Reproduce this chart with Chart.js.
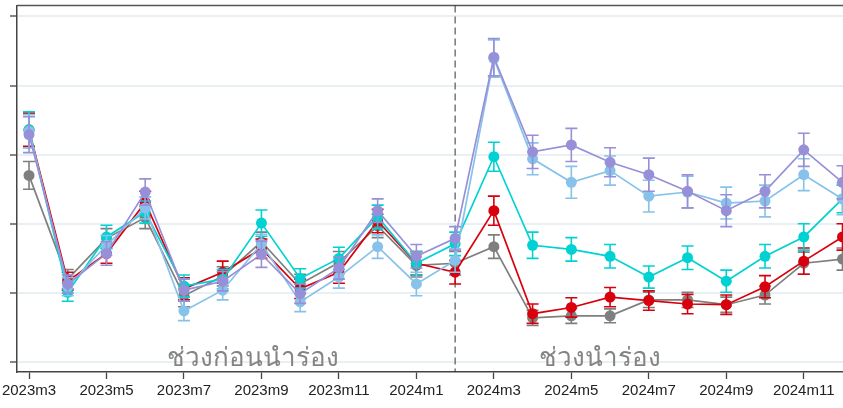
<!DOCTYPE html>
<html><head><meta charset="utf-8">
<script src="https://cdn.jsdelivr.net/npm/chart.js@4/dist/chart.umd.min.js"></script>
<style>
html,body{margin:0;padding:0;overflow:hidden;background:#fff;width:843px;height:408px;}
#wrap{position:absolute;left:-40px;top:0;width:900px;height:408px;}
</style></head><body>
<div id="wrap"><canvas id="c"></canvas></div>
<script>
const months = ["2023m3","2023m4","2023m5","2023m6","2023m7","2023m8","2023m9","2023m10","2023m11","2023m12","2024m1","2024m2",
                "2024m3","2024m4","2024m5","2024m6","2024m7","2024m8","2024m9","2024m10","2024m11","2024m12"];
const labeledTicks = ["2023m3","2023m5","2023m7","2023m9","2023m11","2024m1","2024m3","2024m5","2024m7","2024m9","2024m11"];
const yGridValues = [0,1,2,3,4,5];

const grayVals   = [2.70,1.20,1.79,2.09,0.96,1.24,1.74,1.13,1.44,1.97,1.40,1.43,1.67,0.64,0.67,0.67,0.90,0.90,0.83,0.97,1.43,1.49];
const grayErr    = [0.20,0.14,0.14,0.16,0.16,0.14,0.14,0.14,0.16,0.17,0.17,0.17,0.17,0.11,0.11,0.10,0.11,0.11,0.11,0.13,0.16,0.16];
const redVals    = [3.36,1.17,1.57,2.31,1.06,1.30,1.64,1.06,1.30,2.04,1.43,1.30,2.19,0.70,0.79,0.94,0.89,0.84,0.83,1.09,1.46,1.81];
const redErr     = [0.24,0.13,0.14,0.16,0.16,0.16,0.14,0.14,0.16,0.17,0.17,0.17,0.21,0.14,0.14,0.14,0.14,0.14,0.14,0.16,0.19,0.19];
const cyanVals   = [3.36,1.01,1.81,2.17,1.10,1.20,2.01,1.21,1.50,2.10,1.43,1.71,2.97,1.69,1.63,1.53,1.23,1.51,1.17,1.53,1.81,2.36];
const cyanErr    = [0.26,0.13,0.17,0.16,0.16,0.14,0.19,0.14,0.16,0.17,0.17,0.17,0.21,0.19,0.17,0.17,0.16,0.17,0.16,0.17,0.19,0.20];
const skyVals    = [3.34,1.09,1.69,2.23,0.74,1.04,1.71,0.87,1.23,1.67,1.13,1.47,4.39,2.94,2.60,2.77,2.40,2.46,2.30,2.33,2.71,2.36];
const skyErr     = [0.24,0.13,0.14,0.16,0.14,0.14,0.14,0.14,0.16,0.17,0.17,0.17,0.27,0.23,0.23,0.21,0.23,0.23,0.23,0.23,0.23,0.23];
const purpleVals = [3.29,1.13,1.57,2.46,1.04,1.17,1.56,0.99,1.36,2.19,1.53,1.79,4.41,3.04,3.14,2.89,2.71,2.47,2.19,2.47,3.07,2.60];
const purpleErr  = [0.26,0.13,0.17,0.19,0.16,0.14,0.19,0.14,0.16,0.17,0.17,0.17,0.27,0.24,0.24,0.21,0.24,0.24,0.23,0.24,0.24,0.24];

const periodLabels = ["ช่วงก่อนนำร่อง","ช่วงนำร่อง"];
const periodLabelX = [5.78, 14.74];
const periodLabelY = 0.05;
const pilotStart = "2024m2";

function pts(vals){ return vals.map((v,i)=>({x:i,y:v})); }
function mk(label,vals,err,color){
  return {label,data:pts(vals),err,borderColor:color,backgroundColor:color,pointBackgroundColor:color,
    pointBorderWidth:0,pointRadius:5.5,pointHoverRadius:5.5,borderWidth:1.7,tension:0,clip:false};
}
const datasets = [
  mk("purple",purpleVals,purpleErr,"#9790d8"),
  mk("sky",skyVals,skyErr,"#86c2ea"),
  mk("cyan",cyanVals,cyanErr,"#00d2d3"),
  mk("red",redVals,redErr,"#d9000d"),
  mk("gray",grayVals,grayErr,"#7f7f7f")
];

const errorBars = {
  id:'errorBars',
  beforeDatasetDraw(chart,args){
    const ds = chart.data.datasets[args.index];
    if(!ds.err) return;
    const ys = chart.scales.y, ctx = chart.ctx;
    ctx.save(); ctx.strokeStyle = ds.borderColor; ctx.lineWidth = 1.6;
    args.meta.data.forEach((p,i)=>{
      const v = ds.data[i].y, e = ds.err[i];
      const y1 = ys.getPixelForValue(v-e), y2 = ys.getPixelForValue(v+e);
      ctx.beginPath();
      ctx.moveTo(p.x,y1); ctx.lineTo(p.x,y2);
      ctx.moveTo(p.x-6,y1); ctx.lineTo(p.x+6,y1);
      ctx.moveTo(p.x-6,y2); ctx.lineTo(p.x+6,y2);
      ctx.stroke();
    });
    ctx.restore();
  }
};
const decor = {
  id:'decor',
  beforeDatasetsDraw(chart){
    const {ctx, chartArea:a, scales:{x,y}} = chart;
    ctx.save();
    ctx.strokeStyle = '#555'; ctx.lineWidth = 1.5;
    ctx.beginPath(); ctx.moveTo(a.left, a.top); ctx.lineTo(a.right, a.top); ctx.stroke();
    const xp = x.getPixelForValue(months.indexOf(pilotStart));
    ctx.strokeStyle = '#333'; ctx.lineWidth = 1; ctx.setLineDash([7,4]);
    ctx.beginPath(); ctx.moveTo(xp, a.top); ctx.lineTo(xp, a.bottom); ctx.stroke();
    ctx.setLineDash([]);
    ctx.fillStyle = '#848484'; ctx.font = '26px "Noto Sans", sans-serif';
    ctx.textAlign = 'center'; ctx.textBaseline = 'middle';
    periodLabels.forEach((t,i)=>ctx.fillText(t, x.getPixelForValue(periodLabelX[i]), y.getPixelForValue(periodLabelY)));
    ctx.restore();
  }
};

new Chart(document.getElementById('c'), {
  type:'line',
  data:{datasets},
  plugins:[errorBars, decor],
  options:{
    responsive:true, maintainAspectRatio:false, animation:false,
    layout:{padding:{left:50,top:4,right:5,bottom:5}},
    plugins:{legend:{display:false},tooltip:{enabled:false}},
    scales:{
      x:{type:'linear',min:-0.31,max:21.31,
        afterBuildTicks:s=>{ s.ticks = labeledTicks.map(m=>({value:months.indexOf(m)})); },
        ticks:{autoSkip:false,maxRotation:0,padding:3,color:'#222',font:{family:'"Liberation Sans", Arial, sans-serif',size:15},
          callback:v=>months[v]},
        grid:{drawOnChartArea:false,drawTicks:true,tickLength:7,tickColor:'#444',tickWidth:1.3},
        border:{display:true,color:'#444',width:1.5}
      },
      y:{type:'linear',min:-0.143,max:5.157,
        afterBuildTicks:s=>{ s.ticks = yGridValues.map(v=>({value:v})); },
        ticks:{display:false},
        grid:{color:'#e9f0f3',lineWidth:2,drawTicks:true,tickLength:7,tickColor:'#444',tickWidth:1.3},
        border:{display:true,color:'#444',width:1.5}
      }
    }
  }
});
</script>
</body></html>
